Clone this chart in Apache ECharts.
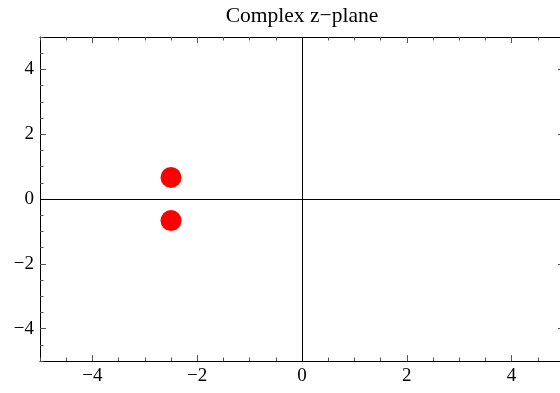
<!DOCTYPE html>
<html>
<head>
<meta charset="utf-8">
<script src="https://cdn.jsdelivr.net/npm/echarts@6/dist/echarts.min.js"></script>
<style>
  html, body { margin: 0; padding: 0; background: #fff; overflow: hidden; }
  /* plot frame runs slightly past the right edge of the window, as in the original */
  #chart { width: 570px; height: 393px; }
</style>
</head>
<body>
<div id="chart"></div>
<script>
  // roots in the complex plane
  var rootsRe = [-2.5, -2.5];
  var rootsIm = [0.667, -0.667];
  var majorTicks = [-4, -2, 0, 2, 4];
  var axisMin = -5, axisMax = 5;

  var points = rootsRe.map(function (re, i) { return [re, rootsIm[i]]; });

  var myChart = echarts.init(document.getElementById('chart'));
  var font = 'Liberation Serif';
  var tickColor = '#555';

  // frame axis: line + major ticks (+ labels on bottom/left)
  function frameAxis(pos, withLabels) {
    return {
      type: 'value', position: pos, min: axisMin, max: axisMax, interval: 0.5,
      axisLine: { show: true, onZero: false, lineStyle: { color: '#000', width: 1 } },
      axisTick: { show: true, inside: true, length: 6, customValues: majorTicks, lineStyle: { color: tickColor } },
      axisLabel: {
        show: withLabels, customValues: majorTicks, margin: 6,
        fontFamily: font, fontSize: 19, color: '#000',
        formatter: function (v) { return v < 0 ? '\u2212' + Math.abs(v) : String(v); }
      },
      splitLine: { show: false }
    };
  }
  // minor ticks every 0.5
  function minorAxis(pos) {
    return {
      type: 'value', position: pos, min: axisMin, max: axisMax, interval: 0.5,
      axisLine: { show: false, onZero: false },
      axisTick: { show: true, inside: true, length: 3.5, lineStyle: { color: tickColor } },
      axisLabel: { show: false },
      splitLine: { show: false }
    };
  }

  var option = {
    animation: false,
    backgroundColor: '#fff',
    title: {
      text: 'Complex z\u2212plane', left: 297, top: 0, textAlign: 'center',
      textStyle: { fontFamily: font, fontSize: 21.5, fontWeight: 'normal', color: '#000' }
    },
    grid: { left: 40, right: 6, top: 37, bottom: 32 },
    xAxis: [frameAxis('bottom', true), minorAxis('bottom'), frameAxis('top', false), minorAxis('top')],
    yAxis: [frameAxis('left', true), minorAxis('left'), frameAxis('right', false), minorAxis('right')],
    series: [{
      type: 'scatter',
      xAxisIndex: 0, yAxisIndex: 0,
      symbolSize: 21,
      itemStyle: { color: '#ff0000', opacity: 1 },
      data: points,
      markLine: {
        silent: true, symbol: 'none', animation: false,
        label: { show: false },
        lineStyle: { color: '#000', width: 1, type: 'solid' },
        data: [{ xAxis: 0 }, { yAxis: 0 }]
      }
    }]
  };

  myChart.setOption(option);
</script>
</body>
</html>
